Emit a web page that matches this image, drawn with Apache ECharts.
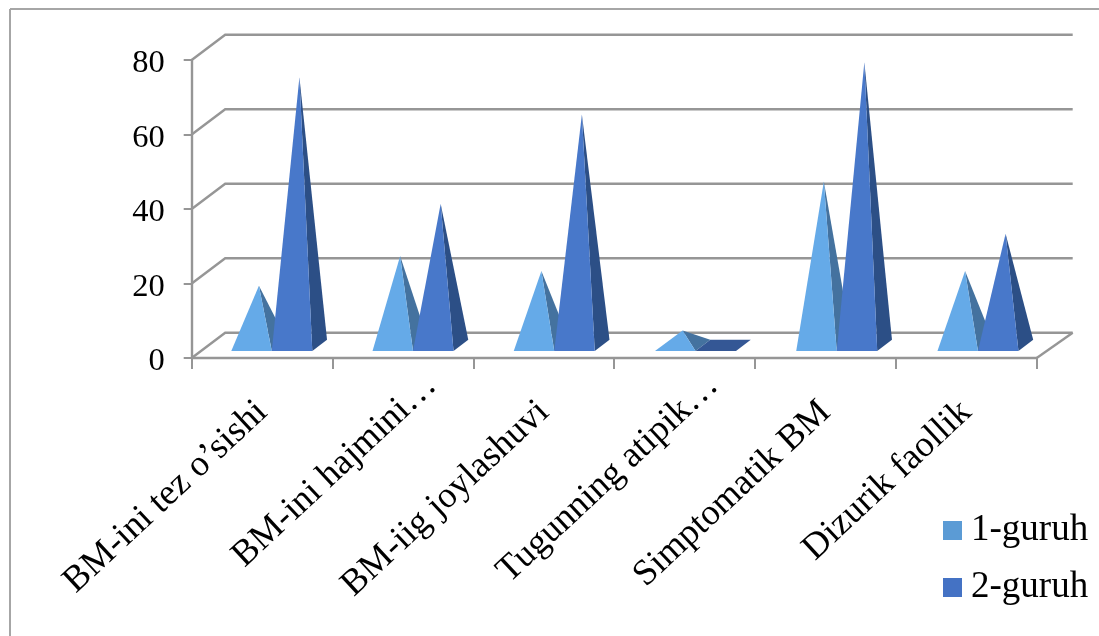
<!DOCTYPE html>
<html>
<head>
<meta charset="utf-8">
<style>html,body{margin:0;padding:0;background:#fff}#c{width:1099px;height:636px}</style>
<script src="https://cdn.jsdelivr.net/npm/echarts@6/dist/echarts.min.js"></script>
</head>
<body>
<div id="c"></div>
<script>
const categories = ['BM-ini tez o’sishi', 'BM-ini hajmini…', 'BM-iig joylashuvi', 'Tugunning atipik…', 'Simptomatik BM', 'Dizurik faollik'];
const group1 = [16, 24, 20, 4, 44, 20];
const group2 = [72, 38, 62, 0, 76, 30];
const yTicks = [0, 20, 40, 60, 80];
const seriesNames = ['1-guruh', '2-guruh'];

const FONT = '"Liberation Serif","Times New Roman",serif';
const DEPTH_X = 33.5, DEPTH_X_RIGHT = 36, DEPTH_Y = 25.2, BAR_W = 40.5;
const GRID = '#969696';
const chart = echarts.init(document.getElementById('c'));

function pyramid(slot, frontColor, sideColor, baseColor) {
  return function (params, api) {
    const cat = api.value(0), v = api.value(1);
    const base = api.coord([cat, 0]);
    const top = api.coord([cat, v]);
    const drift = 0.3 + 0.4 * cat;
    const at = t => [t * DEPTH_X + drift, -t * DEPTH_Y];
    const f = at(0.28), b = at(0.72), m = at(0.5);
    const xL = base[0] + slot * BAR_W;
    const xR = xL + BAR_W;
    const fl = [xL + f[0], base[1] + f[1]];
    const fr = [xR + f[0], base[1] + f[1]];
    const br = [xR + b[0], base[1] + b[1]];
    const bl = [xL + b[0], base[1] + b[1]];
    const apex = [(xL + xR) / 2 + m[0], top[1] + m[1]];
    if (v === 0) {
      return { type: 'polygon', shape: { points: [fl, fr, br, bl] }, style: { fill: baseColor } };
    }
    return { type: 'group', children: [
      { type: 'polygon', shape: { points: [fr, br, apex] }, style: { fill: sideColor } },
      { type: 'polygon', shape: { points: [fl, fr, apex] }, style: { fill: frontColor } }
    ] };
  };
}

function wall(params, api) {
  const cs = params.coordSys;
  const p = api.coord([0, api.value(0)]);
  const y = p[1], l = cs.x, r = cs.x + cs.width;
  const s = { stroke: GRID, lineWidth: 2.4, fill: null };
  const kids = [{ type: 'polyline', shape: { points: [[l, y], [l + DEPTH_X, y - DEPTH_Y], [r + DEPTH_X_RIGHT, y - DEPTH_Y]] }, style: s }];
  if (api.value(0) === 0) {
    kids.push({ type: 'polyline', shape: { points: [[r, y], [r + DEPTH_X_RIGHT, y - DEPTH_Y]] }, style: s });
  }
  return { type: 'group', children: kids };
}

// truncated labels sit further along their baseline than the complete ones
const categoryItems = categories.map(c => c.endsWith('…')
  ? { value: c, textStyle: { padding: [0, -39, 0, 0] } }
  : c);

chart.setOption({
  animation: false,
  backgroundColor: '#fff',
  grid: { left: 191.7, top: 60, width: 845, height: 298, containLabel: false },
  xAxis: {
    type: 'category', data: categoryItems, boundaryGap: true,
    axisLine: { show: true, lineStyle: { color: GRID, width: 2.4 } },
    axisTick: { show: true, length: 11, alignWithLabel: false, lineStyle: { color: GRID, width: 2 } },
    axisLabel: { interval: 0, rotate: 43, margin: 49, color: '#000', fontFamily: FONT, fontSize: 36.5 }
  },
  yAxis: {
    type: 'value', min: 0, max: 80, interval: 20,
    axisLine: { show: true, lineStyle: { color: GRID, width: 2.4 } },
    axisTick: { show: true, length: 8, lineStyle: { color: GRID, width: 2 } },
    splitLine: { show: false },
    axisLabel: { margin: 27, verticalAlign: 'top', padding: [-13, 0, 0, 0], color: '#000', fontFamily: FONT, fontSize: 32.5 }
  },
  legend: {
    show: true, orient: 'vertical', left: 938, top: 507, itemWidth: 19, itemHeight: 19, itemGap: 20,
    data: seriesNames, icon: 'rect',
    textStyle: { color: '#000', fontFamily: FONT, fontSize: 37, padding: [0, 0, 0, 4] }
  },
  graphic: [
    { type: 'line', shape: { x1: 10, y1: 636, x2: 10, y2: 9 }, style: { stroke: '#a6a6a6', lineWidth: 2 } },
    { type: 'line', shape: { x1: 10, y1: 9, x2: 1099, y2: 9 }, style: { stroke: '#a6a6a6', lineWidth: 2 } }
  ],
  series: [
    { type: 'custom', name: 'walls', renderItem: wall, data: yTicks.map(t => [t]), encode: { y: 0 }, clip: false, silent: true, z: 1, coordinateSystem: 'cartesian2d' },
    { type: 'custom', name: seriesNames[0], renderItem: pyramid(-1, '#65aae8', '#44729f', '#44729f'), itemStyle: { color: '#5b9bd5' }, data: group1.map((v, i) => [i, v]), encode: { x: 0, y: 1 }, clip: false, z: 2 },
    { type: 'custom', name: seriesNames[1], renderItem: pyramid(0, '#4878ca', '#2c4f86', '#345795'), itemStyle: { color: '#4472c4' }, data: group2.map((v, i) => [i, v]), encode: { x: 0, y: 1 }, clip: false, z: 3 }
  ]
});
</script>
</body>
</html>
